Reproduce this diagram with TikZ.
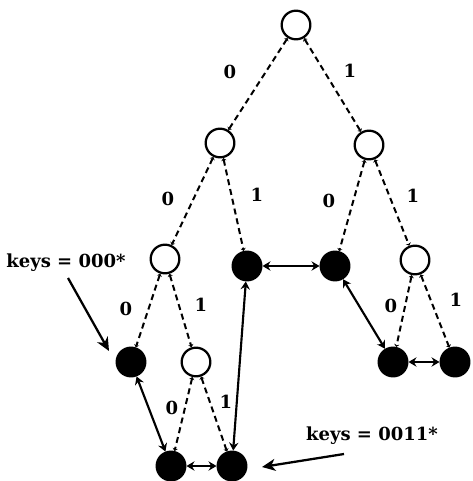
\documentclass[tikz,border=0pt]{standalone}
\usepackage{fontspec}
\setmainfont{DejaVu Serif}
\usepackage{tikz}
\usetikzlibrary{arrows.meta}

\tikzset{
  trienode/.style={circle,draw,line width=1.7pt,minimum size=21.5pt,inner sep=0pt,fill=white},
  leafnode/.style={trienode,fill=black},
  edgebit/.style={font=\fontsize{13.5}{16}\selectfont\bfseries},
  trieedge/.style={line width=1.5pt,dash pattern=on 4.5pt off 3pt,
    {Stealth[length=2pt,width=4pt]}-{Stealth[length=2pt,width=4pt]}},
  linkedge/.style={line width=1.6pt,{Stealth[length=6pt,width=7pt,inset=2pt]}-{Stealth[length=6pt,width=7pt,inset=2pt]}},
  keyarrow/.style={line width=1.7pt,-{Stealth[length=10pt,width=9pt,inset=3pt]}}
}

\begin{document}
\begin{tikzpicture}[x=0.75pt,y=0.75pt,yscale=-1,xscale=1]
\path[use as bounding box] (0,0) rectangle (472,481);

% Trie nodes
\node[trienode] (root) at (296,25) {};
\node[trienode] (n0) at (220,143) {};
\node[trienode] (n1) at (369,145) {};
\node[trienode] (n00) at (165,259) {};
\node[leafnode] (n01) at (247,266) {};
\node[leafnode] (n10) at (335,266) {};
\node[trienode] (n11) at (415,260) {};
\node[leafnode] (n000) at (131,362) {};
\node[trienode] (n001) at (196,362) {};
\node[leafnode] (n110) at (393,362) {};
\node[leafnode] (n111) at (455,362) {};
\node[leafnode] (n0010) at (171,466) {};
\node[leafnode] (n0011) at (232,466) {};

% Dashed trie edges
\draw[trieedge] (root) -- (n0);
\draw[trieedge] (root) -- (n1);
\draw[trieedge] (n0) -- (n00);
\draw[trieedge] (n0) -- (n01);
\draw[trieedge] (n1) -- (n10);
\draw[trieedge] (n1) -- (n11);
\draw[trieedge] (n00) -- (n000);
\draw[trieedge] (n00) -- (n001);
\draw[trieedge] (n001) -- (n0010);
\draw[trieedge] (n001) -- (n0011);
\draw[trieedge] (n11) -- (n110);
\draw[trieedge] (n11) -- (n111);

% Leaf links
\draw[linkedge] (n000) -- (n0010);
\draw[linkedge] (n0010) -- (n0011);
\draw[linkedge] (n0011) -- (n01);
\draw[linkedge] (n01) -- (n10);
\draw[linkedge] (n10) -- (n110);
\draw[linkedge] (n110) -- (n111);

% Edge bits
\node[edgebit] (b0) at (230,72) {0};
\node[edgebit] (b1) at (350,71) {1};
\node[edgebit] (b00) at (168,199) {0};
\node[edgebit] (b01) at (257,195) {1};
\node[edgebit] (b10) at (329,201) {0};
\node[edgebit] (b11) at (413,196) {1};
\node[edgebit] (b000) at (126,309) {0};
\node[edgebit] (b001) at (201,305) {1};
\node[edgebit] (b0010) at (172,408) {0};
\node[edgebit] (b0011) at (226,402) {1};
\node[edgebit] (b110) at (391,306) {0};
\node[edgebit] (b111) at (456,300) {1};

% Key labels
\node[edgebit] (keysa) at (66,263) {keys = 000*};
\node[edgebit] (keysb) at (372,436) {keys = 0011*};
\coordinate (ka) at (68,278);
\coordinate (kb) at (344,454);
\coordinate (ta) at (109,351);
\coordinate (tb) at (262,467);
\draw[keyarrow] (ka) -- (ta);
\draw[keyarrow] (kb) -- (tb);

\end{tikzpicture}
\end{document}
